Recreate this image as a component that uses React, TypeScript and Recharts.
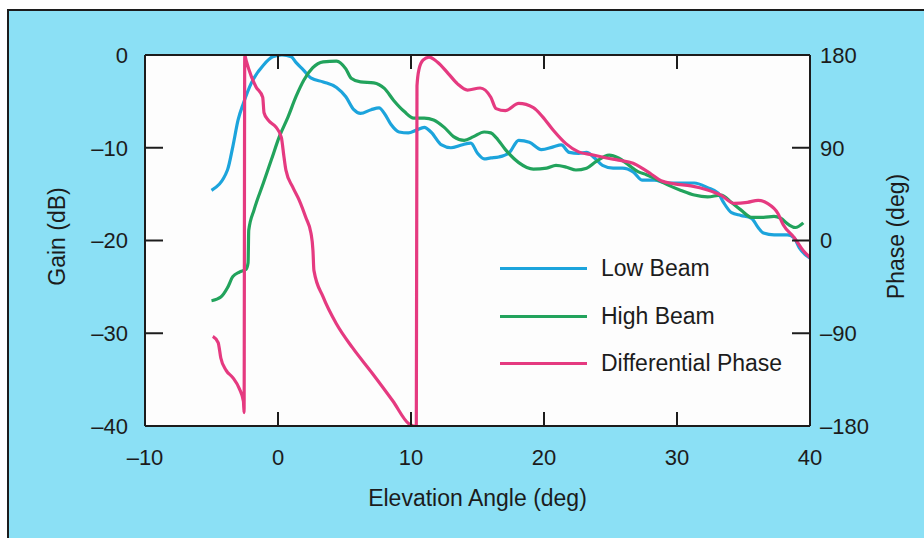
import React from 'react';
import { Legend, Line, LineChart, XAxis, YAxis, CartesianGrid } from 'recharts';

// [elevation angle (deg), gain (dB)]
const lowBeam: [number, number][] = [
  [-5, -14.6], [-3.8, -12.4], [-3.4, -9.9], [-3.0, -7.0], [-2.6, -5.2], [-2.0, -3.0],
  [-1.1, -1.1], [-0.4, -0.2], [0.3, 0], [1.0, -0.2], [1.35, -0.8], [1.9, -1.6],
  [2.5, -2.5], [3.4, -2.9], [4.4, -3.5], [5.1, -4.5], [5.7, -5.9], [6.2, -6.3],
  [7.0, -5.9], [7.6, -5.7], [8.0, -6.3], [8.5, -7.5], [9.1, -8.3], [9.8, -8.4],
  [10.4, -8.1], [11.0, -7.8], [11.5, -8.3], [12.3, -9.7], [13.0, -10.0], [13.8, -9.7],
  [14.5, -9.5], [15.0, -10.6], [15.5, -11.2], [16.0, -11.1], [16.6, -11.0], [17.4, -10.5],
  [18.1, -9.2], [18.9, -9.4], [19.8, -10.2], [20.7, -9.9], [21.3, -9.7], [21.9, -10.5],
  [22.6, -10.6], [23.2, -10.5], [23.8, -11.1], [24.4, -11.9], [25.2, -12.2], [25.9, -12.2],
  [26.7, -12.6], [27.4, -13.5], [28.3, -13.5], [29.3, -13.8], [30.3, -13.8], [31.3, -13.8],
  [32.3, -14.3], [33.1, -14.9], [33.5, -15.9], [34.1, -17.0], [34.8, -17.3], [35.6, -17.6],
  [36.1, -18.6], [36.5, -19.2], [37.3, -19.4], [38.3, -19.4], [38.8, -19.7], [39.2, -20.8],
  [39.7, -21.6], [40, -21.9]
];

const highBeam: [number, number][] = [
  [-5, -26.5], [-4.3, -26.1], [-3.8, -25.1], [-3.4, -23.9], [-2.9, -23.4], [-2.4, -23.1],
  [-2.25, -22.4], [-2.2, -18.9], [-1.8, -16.7], [-1.1, -13.8], [-0.5, -11.3], [0.1, -8.8],
  [0.75, -6.7], [1.35, -4.5], [1.95, -2.7], [2.6, -1.4], [3.4, -0.75], [4.4, -0.65],
  [5.1, -1.5], [5.5, -2.5], [6.2, -2.9], [7.2, -3.0], [8.0, -3.6], [8.7, -4.9],
  [9.5, -6.1], [10.2, -6.8], [11.0, -6.8], [11.7, -7.0], [12.5, -7.8], [13.2, -8.8],
  [14.0, -9.2], [14.7, -8.8], [15.5, -8.3], [16.0, -8.4], [16.4, -8.9], [17.1, -10.2],
  [18.1, -11.6], [19.2, -12.3], [20.2, -12.2], [20.9, -11.9], [21.7, -12.1], [22.4, -12.4],
  [23.2, -12.2], [23.9, -11.5], [24.9, -10.8], [25.6, -11.1], [26.4, -11.9], [27.1, -12.6],
  [27.7, -12.9], [28.3, -13.3], [29.3, -14.0], [30.3, -14.6], [31.3, -15.1], [32.3, -15.3],
  [33.3, -15.1], [34.1, -15.9], [34.8, -16.7], [35.6, -17.5], [36.5, -17.5], [37.3, -17.4],
  [37.8, -17.6], [38.4, -18.3], [38.9, -18.6], [39.5, -18.1]
];

// [elevation angle (deg), phase (deg)]
const diffPhase: [number, number][] = [
  [-4.9, -93], [-4.5, -99], [-4.3, -114], [-3.9, -126], [-3.4, -133], [-2.9, -144],
  [-2.6, -156], [-2.55, -167], [-2.5, 180], [-2.4, 175], [-2.0, 159], [-1.65, 149],
  [-1.15, 139], [-1.05, 124], [-0.75, 117], [-0.15, 110], [0.25, 100], [0.45, 81],
  [0.6, 68], [1.1, 52], [1.6, 39], [2.1, 22], [2.48, 7], [2.63, -10], [2.7, -29],
  [3.4, -55], [4.4, -81], [5.6, -104], [7.1, -129], [8.65, -156], [9.85, -178],
  [10.2, -180], [10.4, -180], [10.45, 150], [10.6, 166], [10.9, 175], [11.35, 178],
  [12.0, 173], [12.8, 162], [13.5, 152], [14.25, 146], [15.2, 148], [16.0, 139],
  [16.4, 128], [17.1, 126], [18.1, 133], [19.2, 129], [19.9, 120], [20.7, 107],
  [21.65, 94], [22.6, 86], [23.7, 83], [24.7, 80], [25.6, 78], [26.7, 75],
  [27.4, 70], [28.0, 65], [28.8, 58], [29.8, 55], [31.05, 53], [32.3, 49],
  [33.3, 44], [34.3, 36], [35.3, 37], [36.1, 39], [36.8, 36], [37.6, 26],
  [38.0, 15], [38.8, 3], [39.5, -10], [40, -16.5]
];

const angleTicks = [-10, 0, 10, 20, 30, 40];
const gainTicks = [0, -10, -20, -30, -40];
const phaseTicks = [180, 90, 0, -90, -180];

const seriesNames = ['Low Beam', 'High Beam', 'Differential Phase'];

const toPoints = (rows: [number, number][]) => rows.map(([x, y]) => ({ x, y }));

const FONT = '"Liberation Sans", Arial, Helvetica, sans-serif';
const INK = '#1c1c1c';
const BLUE = '#1ca4dc';
const GREEN = '#22a35c';
const PINK = '#e53a80';
const seriesColors = [BLUE, GREEN, PINK];

const fmt = (v: number) => (v < 0 ? '\u2013' + Math.abs(v) : String(v));

function GainTick(props: any) {
  const { x, y, payload } = props;
  const axisX = x + 17;
  const inner = payload.value !== 0 && payload.value !== -40;
  return (
    <g>
      <text x={x} y={y} dy="0.36em" textAnchor="end" fontSize={22} fill={INK} fontFamily={FONT}>
        {fmt(payload.value)}
      </text>
      {inner && <line x1={axisX} x2={axisX + 18} y1={y} y2={y} stroke={INK} strokeWidth={2} />}
    </g>
  );
}

function PhaseTick(props: any) {
  const { x, y, payload } = props;
  const axisX = x - 10;
  const inner = payload.value !== 180 && payload.value !== -180;
  return (
    <g>
      <text x={x} y={y} dy="0.36em" textAnchor="start" fontSize={22} fill={INK} fontFamily={FONT}>
        {fmt(payload.value)}
      </text>
      {inner && <line x1={axisX} x2={axisX - 18} y1={y} y2={y} stroke={INK} strokeWidth={2} />}
    </g>
  );
}

function AngleTick(props: any) {
  const { x, y, payload } = props;
  const inner = payload.value !== -10 && payload.value !== 40;
  return (
    <g>
      <text x={x} y={y + 31} dy="0.36em" textAnchor="middle" fontSize={22} fill={INK} fontFamily={FONT}>
        {fmt(payload.value)}
      </text>
      {inner && <line x1={x} x2={x} y1={y} y2={y - 14} stroke={INK} strokeWidth={2} />}
    </g>
  );
}

function TopTick(props: any) {
  const { x, y, payload } = props;
  if (payload.value === -10 || payload.value === 40) return <g />;
  return <line x1={x} x2={x} y1={y} y2={y + 14} stroke={INK} strokeWidth={2} />;
}

function LegendBox() {
  return (
    <div style={{ fontFamily: FONT, fontSize: 23, color: INK }}>
      {seriesNames.map((name, i) => (
        <div key={name} style={{ display: 'flex', alignItems: 'center', height: 47.5 }}>
          <div style={{ width: 87, height: 3, background: seriesColors[i], marginRight: 14 }} />
          <span>{name}</span>
        </div>
      ))}
    </div>
  );
}

export default function App() {
  return (
    <div style={{ position: 'absolute', left: 0, top: 0, width: 924, height: 538, background: '#fff' }}>
      <div
        style={{
          position: 'absolute',
          left: 7,
          top: 9,
          width: 917,
          height: 529,
          background: '#8be0f5',
          borderTop: `2px solid ${INK}`,
          borderLeft: `2px solid ${INK}`,
          boxSizing: 'border-box'
        }}
      />
      <div style={{ position: 'absolute', left: 0, top: 0 }}>
        <LineChart width={924} height={538} margin={{ top: 35, right: 0, bottom: 0, left: 0 }}>
          <CartesianGrid fill="#fdfdfd" horizontal={false} vertical={false} />
          <XAxis
            xAxisId="bottom"
            type="number"
            dataKey="x"
            domain={[-10, 40]}
            ticks={angleTicks}
            allowDataOverflow
            height={112}
            tickSize={0}
            tickMargin={0}
            tick={AngleTick}
            axisLine={{ stroke: INK, strokeWidth: 2 }}
            tickLine={false}
            label={{
              content: (p: any) => {
                const vb = p.viewBox;
                return (
                  <text x={vb.x + vb.width / 2} y={vb.y + 72} dy="0.36em" textAnchor="middle" fontSize={23} fill={INK} fontFamily={FONT}>
                    Elevation Angle (deg)
                  </text>
                );
              }
            }}
          />
          <XAxis
            xAxisId="top"
            orientation="top"
            type="number"
            dataKey="x"
            domain={[-10, 40]}
            ticks={angleTicks}
            allowDataOverflow
            height={20}
            tickSize={0}
            tickMargin={0}
            tick={TopTick}
            axisLine={{ stroke: INK, strokeWidth: 2 }}
            tickLine={false}
          />
          <YAxis
            yAxisId="gain"
            orientation="left"
            type="number"
            domain={[-40, 0]}
            ticks={gainTicks}
            allowDataOverflow
            width={145}
            tickSize={0}
            tickMargin={17}
            tick={GainTick}
            axisLine={{ stroke: INK, strokeWidth: 2 }}
            tickLine={false}
            label={{
              content: (p: any) => {
                const vb = p.viewBox;
                const cx = vb.x + 57;
                const cy = vb.y + vb.height / 2 - 4;
                return (
                  <text x={cx} y={cy} dy="0.36em" textAnchor="middle" fontSize={23} fill={INK} fontFamily={FONT} transform={`rotate(-90 ${cx} ${cy})`}>
                    Gain (dB)
                  </text>
                );
              }
            }}
          />
          <YAxis
            yAxisId="phase"
            orientation="right"
            type="number"
            domain={[-180, 180]}
            ticks={phaseTicks}
            allowDataOverflow
            width={114}
            tickSize={0}
            tickMargin={10}
            tick={PhaseTick}
            axisLine={{ stroke: INK, strokeWidth: 2 }}
            tickLine={false}
            label={{
              content: (p: any) => {
                const vb = p.viewBox;
                const cx = vb.x + 86;
                const cy = vb.y + vb.height / 2 - 4;
                return (
                  <text x={cx} y={cy} dy="0.36em" textAnchor="middle" fontSize={23} fill={INK} fontFamily={FONT} transform={`rotate(-90 ${cx} ${cy})`}>
                    Phase (deg)
                  </text>
                );
              }
            }}
          />
          <Legend
            layout="vertical"
            align="center"
            verticalAlign="middle"
            wrapperStyle={{ left: 500, top: 245, width: 320 }}
            content={LegendBox}
          />
          <Line
            name={seriesNames[0]}
            data={toPoints(lowBeam)}
            xAxisId="bottom"
            yAxisId="gain"
            dataKey="y"
            type="monotone"
            stroke={BLUE}
            strokeWidth={3.2}
            dot={false}
            isAnimationActive={false}
          />
          <Line
            name={seriesNames[1]}
            data={toPoints(highBeam)}
            xAxisId="bottom"
            yAxisId="gain"
            dataKey="y"
            type="monotone"
            stroke={GREEN}
            strokeWidth={3.2}
            dot={false}
            isAnimationActive={false}
          />
          <Line
            name={seriesNames[2]}
            data={toPoints(diffPhase)}
            xAxisId="bottom"
            yAxisId="phase"
            dataKey="y"
            type="monotone"
            stroke={PINK}
            strokeWidth={3.2}
            strokeLinejoin="round"
            dot={false}
            isAnimationActive={false}
          />
        </LineChart>
      </div>
    </div>
  );
}
